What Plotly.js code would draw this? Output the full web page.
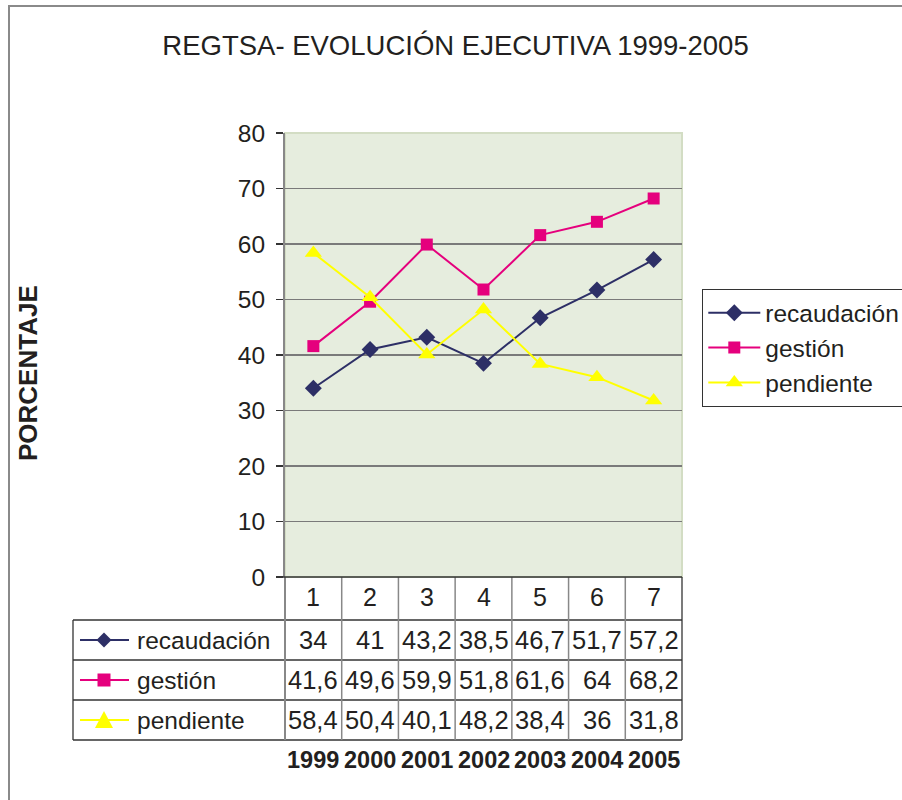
<!DOCTYPE html>
<html>
<head>
<meta charset="utf-8">
<script src="https://cdn.plot.ly/plotly-3.0.1.min.js"></script>
<style>html,body{margin:0;padding:0;background:#fff;}</style>
</head>
<body>
<div id="chart" style="width:902px;height:800px;"></div>
<script>
const categories = [1, 2, 3, 4, 5, 6, 7];
const years = ['1999', '2000', '2001', '2002', '2003', '2004', '2005'];
const seriesNames = ['recaudación', 'gestión', 'pendiente'];
const recaudacion = [34, 41, 43.2, 38.5, 46.7, 51.7, 57.2];
const gestion = [41.6, 49.6, 59.9, 51.8, 61.6, 64, 68.2];
const pendiente = [58.4, 50.4, 40.1, 48.2, 38.4, 36, 31.8];
const yTicks = [0, 10, 20, 30, 40, 50, 60, 70, 80];

const colors = ['#2d2f66', '#e5007d', '#ffff00'];
const symbols = ['diamond', 'square', 'triangle-up'];
const sizes = [13, 12, 15];
const values = [recaudacion, gestion, pendiente];

const L = 285, R = 682, T = 133, B = 577;
const pX = x => (x - L) / (R - L);
const pY = y => (B - y) / (B - T);
const fmt = v => String(v).replace('.', ',');
const FONT = 'Liberation Sans, Arial, Helvetica, sans-serif';
const TXT = '#231f20';

const traces = values.map((vals, i) => ({
  x: categories, y: vals, name: seriesNames[i], type: 'scatter', mode: 'lines+markers',
  legendgroup: 'g' + i,
  line: {color: colors[i], width: 2},
  marker: {symbol: symbols[i], size: sizes[i], color: colors[i]}
}));

const annotations = [];
const shapes = [];
const rowY = [640, 680, 720];
const lineRows = [620, 660, 700, 740];

categories.forEach((c, j) => {
  annotations.push({x: c, xref: 'x', y: pY(597), yref: 'paper', text: String(c), showarrow: false,
    font: {size: 25, color: TXT, family: FONT}, xanchor: 'center', yanchor: 'middle'});
  annotations.push({x: c, xref: 'x', y: pY(760), yref: 'paper', text: '<b>' + years[j] + '</b>', showarrow: false,
    font: {size: 23.5, color: TXT, family: FONT}, xanchor: 'center', yanchor: 'middle'});
});
values.forEach((vals, i) => {
  vals.forEach((v, j) => {
    annotations.push({x: categories[j], xref: 'x', y: pY(rowY[i]), yref: 'paper', text: fmt(v), showarrow: false,
      font: {size: 25.5, color: TXT, family: FONT}, xanchor: 'center', yanchor: 'middle'});
  });
  annotations.push({x: pX(135), xref: 'paper', y: pY(rowY[i]), yref: 'paper', text: seriesNames[i], showarrow: false,
    font: {size: 24.5, color: TXT, family: FONT}, xanchor: 'left', yanchor: 'middle'});
  shapes.push({type: 'line', xref: 'paper', yref: 'paper', x0: pX(80), x1: pX(129), y0: pY(rowY[i]), y1: pY(rowY[i]),
    line: {color: colors[i], width: 2}});
});
(function () {
  const cx = 104;
  const d = 7.5, cy0 = rowY[0];
  shapes.push({type: 'path', xref: 'paper', yref: 'paper', fillcolor: colors[0], line: {width: 0},
    path: `M ${pX(cx)} ${pY(cy0 - d)} L ${pX(cx + d)} ${pY(cy0)} L ${pX(cx)} ${pY(cy0 + d)} L ${pX(cx - d)} ${pY(cy0)} Z`});
  const s = 6.5, cy1 = rowY[1];
  shapes.push({type: 'rect', xref: 'paper', yref: 'paper', fillcolor: colors[1], line: {width: 0},
    x0: pX(cx - s), x1: pX(cx + s), y0: pY(cy1 - s), y1: pY(cy1 + s)});
  const cy2 = rowY[2];
  shapes.push({type: 'path', xref: 'paper', yref: 'paper', fillcolor: colors[2], line: {width: 0},
    path: `M ${pX(cx)} ${pY(cy2 - 9)} L ${pX(cx + 9)} ${pY(cy2 + 8)} L ${pX(cx - 9)} ${pY(cy2 + 8)} Z`});
})();
lineRows.forEach(y => {
  shapes.push({type: 'line', xref: 'paper', yref: 'paper', x0: pX(73), x1: 1, y0: pY(y), y1: pY(y),
    line: {color: '#333', width: 1.3}});
});
shapes.push({type: 'line', xref: 'paper', yref: 'paper', x0: pX(73), x1: pX(73), y0: pY(620), y1: pY(740),
  line: {color: '#333', width: 1.3}});
categories.slice(0, -1).forEach(c => {
  shapes.push({type: 'line', xref: 'x', yref: 'paper', x0: c + 0.5, x1: c + 0.5, y0: 0, y1: pY(740),
    line: {color: '#888', width: 1.5}});
});
shapes.push({type: 'line', xref: 'paper', yref: 'paper', x0: 0, x1: 0, y0: 0, y1: pY(740), line: {color: '#888', width: 2}});
shapes.push({type: 'line', xref: 'paper', yref: 'paper', x0: 1, x1: 1, y0: 0, y1: pY(740), line: {color: '#333', width: 1.3}});
shapes.push({type: 'rect', xref: 'paper', yref: 'paper', x0: 0, x1: 1, y0: 0, y1: 1, line: {color: '#d3ddc4', width: 2}, layer: 'below'});
shapes.push({type: 'rect', xref: 'paper', yref: 'paper', x0: pX(9), x1: pX(960), y0: pY(860), y1: pY(6),
  line: {color: '#8a8a8a', width: 2}});
shapes.push({type: 'line', xref: 'paper', yref: 'paper', x0: pX(278), x1: 1, y0: 0, y1: 0, line: {color: '#333', width: 1.5}});

annotations.push({x: pX(28), xref: 'paper', y: pY(373), yref: 'paper', text: '<b>PORCENTAJE</b>', textangle: -90,
  showarrow: false, font: {size: 26, color: TXT, family: FONT}, xanchor: 'center', yanchor: 'middle'});

const layout = {
  width: 902, height: 800,
  margin: {l: L, r: 902 - R, t: T, b: 800 - B, pad: 0, autoexpand: false},
  paper_bgcolor: '#ffffff', plot_bgcolor: '#e6edde',
  font: {family: FONT, color: TXT, size: 24},
  title: {text: 'REGTSA- EVOLUCIÓN EJECUTIVA 1999-2005', x: 0.505, xref: 'container', xanchor: 'center',
    y: 1 - 45 / 800, yref: 'container', yanchor: 'middle', font: {size: 27.5, color: TXT, family: FONT}},
  xaxis: {range: [0.5, 7.5], showticklabels: false, ticks: '', showgrid: false, zeroline: false, fixedrange: true},
  yaxis: {range: [0, 80], tickvals: yTicks, ticks: 'outside', ticklen: 7, tickcolor: '#333', tickwidth: 1.3,
    showgrid: true, gridcolor: '#7a7a7a', gridwidth: 1.5, zeroline: false,
    showline: true, linecolor: '#888', linewidth: 2, ticklabelstandoff: 6,
    tickfont: {size: 24.5, color: TXT, family: FONT}, fixedrange: true},
  showlegend: true,
  legend: {x: pX(702), y: pY(289), xanchor: 'left', yanchor: 'top', bgcolor: '#fff', bordercolor: '#333', borderwidth: 1.3,
    font: {size: 24.5, color: TXT, family: FONT}, tracegroupgap: 4, itemwidth: 52, traceorder: 'normal'},
  annotations: annotations,
  shapes: shapes
};

Plotly.newPlot('chart', traces, layout, {displayModeBar: false, staticPlot: true});
</script>
</body>
</html>
